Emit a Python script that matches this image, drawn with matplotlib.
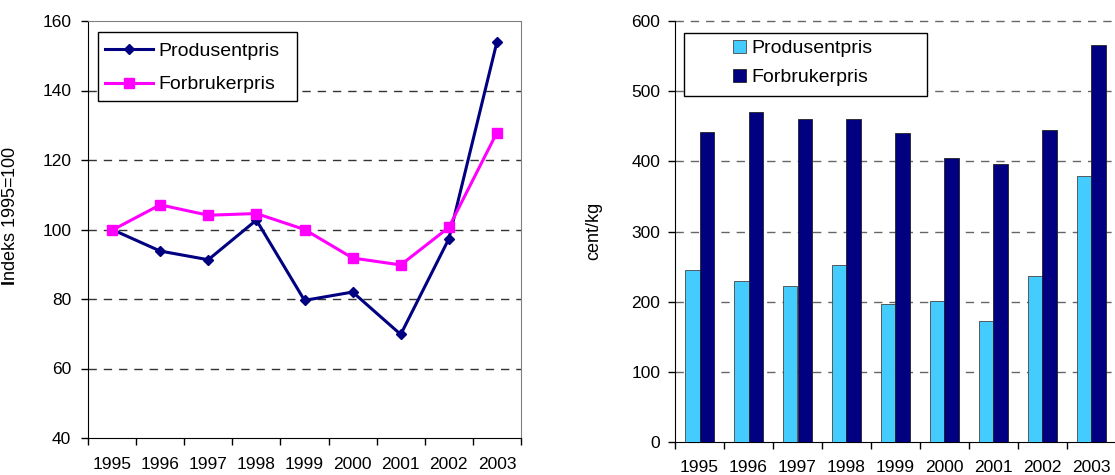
import matplotlib
matplotlib.use("Agg")
import matplotlib.pyplot as plt
from matplotlib.patches import Rectangle
import numpy as np

plt.rcParams['font.family'] = ['Liberation Sans', 'DejaVu Sans']
plt.rcParams['mathtext.fontset'] = 'custom'
plt.rcParams['mathtext.bf'] = 'Liberation Sans:bold'
plt.rcParams['mathtext.rm'] = 'Liberation Sans'

years = ['1995', '1996', '1997', '1998', '1999', '2000', '2001', '2002', '2003']
index_produsent = [100, 93.8, 91.3, 102.7, 79.6, 82.0, 69.8, 97.3, 154.0]
index_forbruker = [99.8, 107.1, 104.1, 104.6, 100.0, 91.8, 89.8, 100.6, 127.9]
cent_produsent = [245, 230, 223, 252, 196, 201, 172, 237, 379]
cent_forbruker = [442, 471, 461, 461, 440, 405, 396, 444, 566]

NAVY = '#000080'
MAGENTA = '#FF00FF'
LIGHTBLUE = '#45CCFF'
FS = 12.5
LFS = 14

W, H = 1115, 475
fig = plt.figure(figsize=(W / 100, H / 100), dpi=100)

def axes_px(x0, y0, x1, y1):
    return fig.add_axes([x0 / W, (H - y1) / H, (x1 - x0) / W, (y1 - y0) / H])

x = np.arange(len(years))

# ---------- Left: line chart ----------
ax1 = axes_px(88, 21, 521, 438)
ax1.plot(x, index_produsent, color=NAVY, lw=2.2, marker='D', ms=5.5,
         label='Produsentpris', zorder=3)
ax1.plot(x, index_forbruker, color=MAGENTA, lw=2.2, marker='s', ms=7.5,
         label='Forbrukerpris', zorder=3)
ax1.set_xlim(-0.5, len(years) - 0.5)
ax1.set_ylim(40, 160)
ax1.set_yticks(range(40, 161, 20))
for v in range(60, 160, 20):
    ax1.axhline(v, color='#333333', lw=1.0, ls=(0, (6, 5)), zorder=1)
ax1.spines['top'].set_color('#808080')
ax1.spines['right'].set_color('#808080')
ax1.spines['left'].set_color('black')
ax1.spines['bottom'].set_color('black')
ax1.set_xticks(np.arange(-0.5, len(years), 1.0))
ax1.set_xticklabels([])
ax1.set_xticks(x, minor=True)
ax1.set_xticklabels(years, minor=True, fontsize=FS)
ax1.tick_params(axis='x', which='major', direction='out', length=5, width=1)
ax1.tick_params(axis='x', which='minor', length=0, pad=13.5)
ax1.tick_params(axis='y', direction='out', length=5, width=1, pad=7, labelsize=FS)
ax1.set_ylabel(r'$\mathbf{I}$ndeks 1995=100', fontsize=13)
ax1.yaxis.set_label_coords((19 - 88) / 433, (438 - 216) / 417)

ax1.add_patch(Rectangle(((98.3 - 88) / 433, (438 - 100.7) / 417),
                        (296.7 - 98.3) / 433, (100.7 - 31.7) / 417,
                        transform=ax1.transAxes, fill=True, facecolor='white',
                        edgecolor='black', lw=1.0, zorder=4))
leg1 = ax1.legend(loc='upper left', bbox_to_anchor=((105 - 88) / 433, (438 - 42.5) / 417),
                  frameon=False, fontsize=LFS, borderpad=0, borderaxespad=0,
                  handlelength=2.47, handletextpad=0.26, labelspacing=0.81)
leg1.set_zorder(5)

# ---------- Right: bar chart ----------
ax2 = axes_px(675, 21, 1116, 442)
bw = 0.3
ax2.bar(x - bw / 2, cent_produsent, width=bw, color=LIGHTBLUE, edgecolor='#444444',
        lw=0.6, label='Produsentpris', zorder=3)
ax2.bar(x + bw / 2, cent_forbruker, width=bw, color=NAVY, edgecolor='#222222',
        lw=0.6, label='Forbrukerpris', zorder=3)
ax2.set_xlim(-0.5, len(years) - 0.5)
ax2.set_ylim(0, 600)
ax2.set_yticks(range(0, 601, 100))
for v in range(100, 601, 100):
    ax2.axhline(v, color='#666666', lw=1.0, ls=(0, (6, 5)), zorder=1, clip_on=False)
for s in ['top', 'right']:
    ax2.spines[s].set_visible(False)
ax2.set_xticks(np.arange(-0.5, len(years), 1.0))
ax2.set_xticklabels([])
ax2.set_xticks(x, minor=True)
ax2.set_xticklabels(years, minor=True, fontsize=FS)
ax2.tick_params(axis='x', which='major', direction='out', length=5, width=1)
ax2.tick_params(axis='x', which='minor', length=0, pad=13)
ax2.tick_params(axis='y', direction='out', length=5, width=1, pad=5.5, labelsize=FS)
ax2.set_ylabel('cent/kg', fontsize=13)
ax2.yaxis.set_label_coords((602 - 675) / 441, (442 - 231) / 421)

ax2.add_patch(Rectangle(((684 - 675) / 441, (442 - 96) / 421),
                        (927.5 - 684) / 441, (96 - 33) / 421,
                        transform=ax2.transAxes, facecolor='white',
                        edgecolor='black', lw=1.0, zorder=4))
leg2 = ax2.legend(loc='upper left', bbox_to_anchor=((733 - 675) / 441, (442 - 39.5) / 421),
                  frameon=False, fontsize=LFS, borderpad=0, borderaxespad=0,
                  handlelength=0.67, handleheight=0.67, handletextpad=0.3,
                  labelspacing=0.6)
leg2.set_zorder(5)

fig.savefig('out.png', dpi=100)
